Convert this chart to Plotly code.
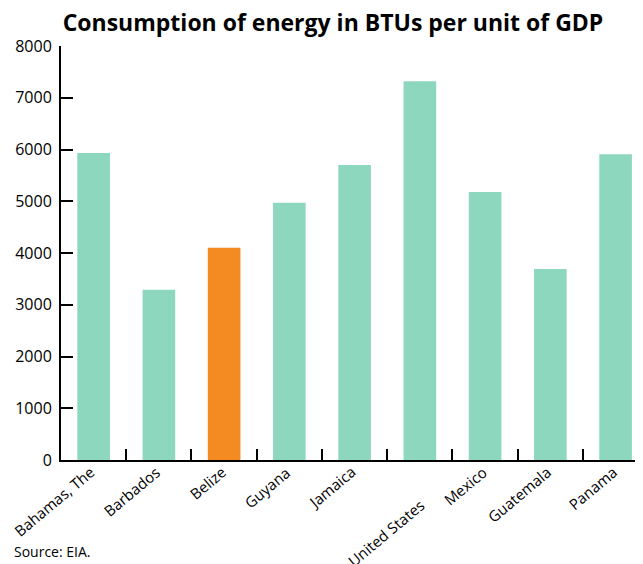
import plotly.graph_objects as go

countries = ["Bahamas, The", "Barbados", "Belize", "Guyana", "Jamaica",
             "United States", "Mexico", "Guatemala", "Panama"]
values = [5930, 3290, 4100, 4970, 5700, 7320, 5180, 3690, 5910]
highlight = "Belize"
label_drop = {"United States": 33}

TEAL = "#8dd7bf"
ORANGE = "#f38a22"
colors = [ORANGE if c == highlight else TEAL for c in countries]

fig = go.Figure(go.Bar(x=countries, y=values, marker=dict(color=colors, line=dict(width=0))))

FONT = "Open Sans"
W, H = 635, 556
L, T, B = 53, 38, 104
PW, PH = W - L, H - T - B

annotations = []
for c in countries:
    annotations.append(dict(
        x=c, y=0, xref="x", yref="y", text=c, showarrow=False,
        textangle=-40, xanchor="right", yanchor="top",
        xshift=8 + (3 if c in label_drop else 0), yshift=1 - label_drop.get(c, 0),
        font=dict(family=FONT, size=15, color="black")))
annotations.append(dict(
    x=(4 - L) / PW, y=-(543 - (T + PH)) / PH, xref="paper", yref="paper",
    text="Source: EIA.", showarrow=False, xanchor="left", yanchor="middle",
    font=dict(family=FONT, size=14, color="black")))

fig.update_layout(
    width=W, height=H,
    margin=dict(l=L, r=0, t=T, b=B, autoexpand=False),
    paper_bgcolor="white", plot_bgcolor="white",
    bargap=0.5,
    showlegend=False,
    title=dict(text="<b>Consumption of energy in BTUs per unit of GDP</b>",
               x=(333 - 8) / W, xanchor="center", y=1 - 15 / H, yanchor="middle",
               xref="container", yref="container",
               font=dict(family=FONT, size=23, color="black")),
    xaxis=dict(range=[-0.5, 8.42], showticklabels=False, tickson="boundaries",
               ticks="inside", ticklen=11, tickwidth=2, tickcolor="black",
               showline=True, linecolor="black", linewidth=2, showgrid=False,
               zeroline=False, automargin=False),
    yaxis=dict(range=[0, 8000], tickvals=[0, 1000, 2000, 3000, 4000, 5000, 6000, 7000, 8000],
               ticktext=["0", "1000", "2000", "3000", "4000", "5000", "6000", "7000", "8000"],
               ticks="inside", ticklen=12, tickwidth=2, tickcolor="black",
               showline=True, linecolor="black", linewidth=2, showgrid=False,
               zeroline=False, ticklabelstandoff=4, automargin=False,
               tickfont=dict(family=FONT, size=16, color="black")),
    annotations=annotations,
)
fig.write_html("out.html")
